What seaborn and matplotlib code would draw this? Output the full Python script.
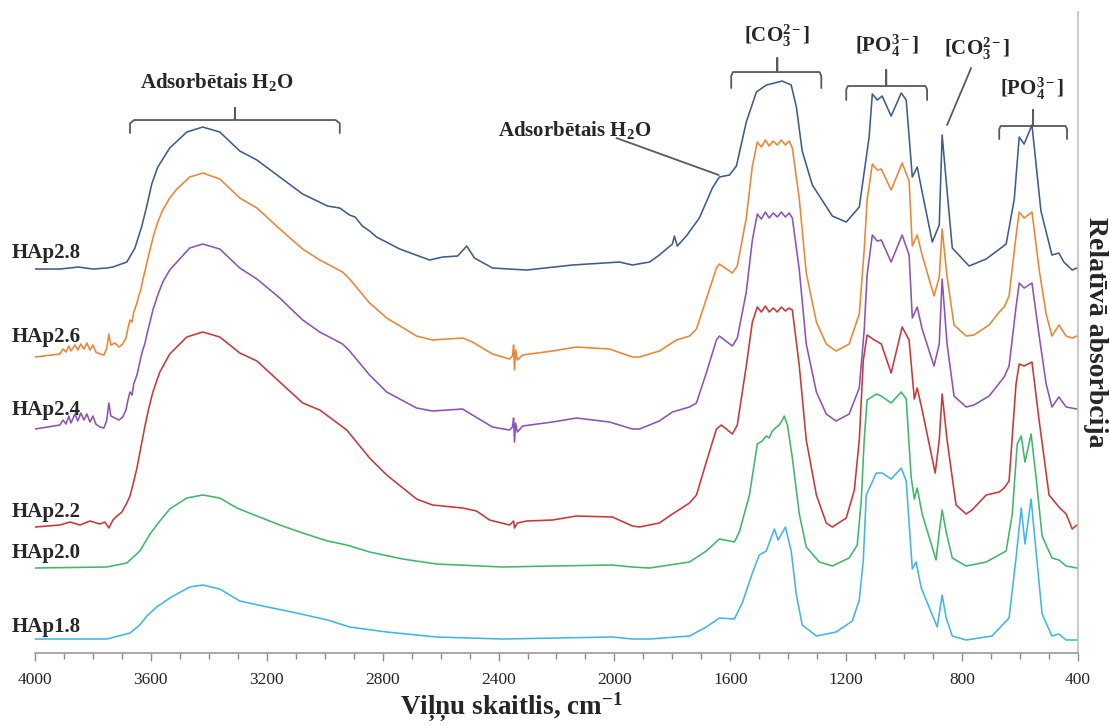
import matplotlib
matplotlib.use("Agg")
import matplotlib.pyplot as plt
import matplotlib.transforms as mtransforms
from matplotlib.ticker import MultipleLocator
import numpy as np
import pandas as pd
import seaborn as sns

# ---- FTIR spectra (stacked, relative absorbance) ----
wn_28 = [4000, 3914, 3850, 3800, 3752, 3731, 3683, 3655, 3632, 3614, 3597, 3576, 3535, 3476, 3421,
         3362, 3293, 3234, 3155, 3076, 2990, 2948, 2914, 2895, 2870, 2845, 2821, 2741, 2638, 2593,
         2541, 2510, 2483, 2421, 2303, 2145, 1983, 1938, 1879, 1845, 1800, 1793, 1783, 1752, 1707,
         1662, 1638, 1603, 1579, 1545, 1510, 1476, 1448, 1421, 1390, 1372, 1352, 1317, 1248, 1200,
         1155, 1121, 1110, 1093, 1076, 1045, 1010, 993, 972, 955, 938, 903, 879, 869, 855,
         834, 776, 717, 648, 620, 603, 586, 559, 528, 490, 466, 449, 420, 404]
ab_28 = [3.84, 3.84, 3.86, 3.84, 3.85, 3.86, 3.91, 4.05, 4.26, 4.47, 4.69, 4.86, 5.05, 5.21, 5.26,
         5.21, 5.02, 4.93, 4.76, 4.59, 4.47, 4.45, 4.38, 4.36, 4.27, 4.22, 4.16, 4.04, 3.93, 3.96,
         3.97, 4.07, 3.95, 3.85, 3.83, 3.88, 3.91, 3.88, 3.91, 3.98, 4.09, 4.17, 4.07, 4.17, 4.35,
         4.65, 4.76, 4.78, 4.87, 5.31, 5.61, 5.68, 5.70, 5.72, 5.68, 5.46, 5.02, 4.68, 4.37, 4.31,
         4.46, 5.16, 5.59, 5.53, 5.57, 5.37, 5.60, 5.53, 4.76, 4.86, 4.61, 4.11, 4.28, 5.18, 4.72,
         4.05, 3.87, 3.94, 4.09, 4.54, 5.16, 5.09, 5.28, 4.42, 3.98, 4.00, 3.91, 3.83, 3.85]

wn_26 = [4000, 3914, 3903, 3893, 3883, 3876, 3862, 3852, 3842, 3831, 3821, 3810, 3800, 3790, 3776, 3762,
         3752, 3745, 3738, 3724, 3710, 3697, 3686, 3679, 3672, 3665, 3659, 3648, 3641, 3635, 3628, 3621,
         3610, 3603, 3593, 3586, 3576, 3559, 3535, 3510, 3466, 3421, 3362, 3293, 3234, 3155, 3076, 3017,
         2938, 2914, 2845, 2786, 2683, 2628, 2524, 2490, 2421, 2362, 2352, 2348, 2345, 2341, 2335, 2317,
         2214, 2131, 2017, 1938, 1914, 1845, 1786, 1741, 1717, 1683, 1648, 1638, 1593, 1576,
         1545, 1524, 1507, 1493, 1479, 1466, 1452, 1438, 1424, 1410, 1397, 1386, 1362, 1338,
         1303, 1269, 1235, 1190, 1155, 1138, 1128, 1110, 1093, 1079, 1045, 1007, 983,
         972, 955, 938, 897, 879, 869, 852, 828, 786, 759, 707, 672, 655, 638, 614,
         603, 586, 559, 534, 510, 490, 466, 441, 420, 404]
ab_26 = [2.96, 2.99, 3.04, 3.01, 3.07, 3.02, 3.08, 3.03, 3.09, 3.04, 3.10, 3.03, 3.08, 3.01, 2.99, 2.98,
         3.05, 3.19, 3.08, 3.10, 3.06, 3.09, 3.15, 3.25, 3.33, 3.31, 3.41, 3.50, 3.58, 3.63, 3.73, 3.81,
         3.95, 4.03, 4.15, 4.22, 4.31, 4.43, 4.55, 4.64, 4.76, 4.80, 4.74, 4.55, 4.45, 4.24, 4.04, 3.93,
         3.81, 3.74, 3.50, 3.35, 3.17, 3.13, 3.15, 3.11, 2.99, 2.94, 2.97, 3.08, 2.83, 3.03, 2.93, 2.98,
         3.02, 3.06, 3.04, 2.96, 2.96, 3.02, 3.13, 3.17, 3.24, 3.54, 3.85, 3.89, 3.80, 3.87,
         4.35, 4.87, 5.11, 5.06, 5.13, 5.07, 5.12, 5.08, 5.13, 5.08, 5.12, 5.05, 4.54, 3.80,
         3.31, 3.09, 3.02, 3.09, 3.39, 4.03, 4.53, 4.89, 4.83, 4.84, 4.63, 4.90, 4.72,
         4.07, 4.18, 3.98, 3.57, 3.76, 4.24, 3.76, 3.28, 3.17, 3.18, 3.28, 3.41, 3.46, 3.57, 4.17,
         4.41, 4.35, 4.41, 3.83, 3.39, 3.17, 3.28, 3.17, 3.15, 3.17]

wn_24 = [4000, 3914, 3903, 3893, 3883, 3876, 3862, 3852, 3842, 3831, 3821, 3810, 3800, 3790, 3776, 3762,
         3752, 3745, 3738, 3724, 3710, 3697, 3686, 3679, 3672, 3665, 3659, 3648, 3641, 3635, 3628, 3621,
         3610, 3603, 3593, 3576, 3559, 3535, 3510, 3466, 3421, 3362, 3293, 3234, 3155, 3076, 3017, 2938,
         2914, 2845, 2786, 2683, 2628, 2524, 2490, 2421, 2362, 2352, 2348, 2345, 2341, 2335, 2317,
         2214, 2131, 2017, 1938, 1914, 1845, 1800, 1741, 1717, 1683, 1648, 1638, 1593, 1576,
         1545, 1524, 1507, 1493, 1479, 1466, 1452, 1438, 1424, 1410, 1397, 1386, 1362, 1338,
         1303, 1269, 1235, 1190, 1155, 1138, 1128, 1110, 1093, 1079, 1045, 1007, 983,
         972, 955, 938, 897, 879, 869, 852, 828, 786, 759, 707, 655, 638, 614,
         603, 586, 559, 534, 510, 490, 466, 441, 404]
ab_24 = [2.24, 2.28, 2.33, 2.29, 2.37, 2.30, 2.39, 2.32, 2.40, 2.33, 2.39, 2.31, 2.37, 2.29, 2.26, 2.25,
         2.33, 2.50, 2.37, 2.35, 2.33, 2.36, 2.43, 2.53, 2.61, 2.58, 2.69, 2.78, 2.87, 2.95, 3.03, 3.09,
         3.23, 3.31, 3.43, 3.58, 3.71, 3.83, 3.91, 4.05, 4.09, 4.04, 3.85, 3.74, 3.55, 3.33, 3.21, 3.09,
         3.02, 2.78, 2.61, 2.45, 2.42, 2.44, 2.38, 2.26, 2.23, 2.26, 2.35, 2.11, 2.30, 2.21, 2.27,
         2.31, 2.35, 2.31, 2.24, 2.24, 2.32, 2.41, 2.46, 2.50, 2.80, 3.13, 3.17, 3.07, 3.15,
         3.61, 4.13, 4.39, 4.34, 4.41, 4.35, 4.40, 4.36, 4.41, 4.36, 4.40, 4.35, 3.83, 3.09,
         2.61, 2.39, 2.32, 2.39, 2.65, 3.23, 3.78, 4.18, 4.12, 4.13, 3.91, 4.18, 3.98,
         3.35, 3.46, 3.24, 2.87, 3.09, 3.74, 3.09, 2.57, 2.46, 2.48, 2.57, 2.76, 2.87, 3.46,
         3.70, 3.65, 3.70, 3.17, 2.69, 2.46, 2.56, 2.46, 2.44]

wn_22 = [4000, 3914, 3879, 3845, 3810, 3776, 3759, 3745, 3731, 3717, 3700, 3683, 3672, 3662, 3648,
         3635, 3621, 3607, 3593, 3579, 3569, 3535, 3476, 3421, 3362, 3293, 3234, 3155, 3076, 3017,
         2924, 2845, 2786, 2683, 2628, 2524, 2476, 2431, 2362, 2348, 2345, 2335, 2303, 2214, 2131,
         2007, 1938, 1914, 1845, 1800, 1741, 1717, 1683, 1648, 1631, 1593, 1576, 1545, 1524, 1507,
         1493, 1479, 1466, 1452, 1438, 1424, 1410, 1397, 1386, 1362, 1338, 1303, 1269, 1248, 1200,
         1172, 1155, 1141, 1128, 1103, 1079, 1045, 1007, 983, 965, 955, 938, 893, 879, 869,
         852, 821, 786, 766, 717, 672, 655, 638, 614, 603, 586, 559, 534, 500, 466, 441, 420, 404]
ab_22 = [1.26, 1.28, 1.31, 1.28, 1.32, 1.29, 1.31, 1.25, 1.33, 1.37, 1.41, 1.50, 1.57, 1.68, 1.85,
         2.05, 2.26, 2.45, 2.61, 2.73, 2.81, 2.99, 3.16, 3.21, 3.16, 3.00, 2.92, 2.71, 2.50, 2.43,
         2.23, 1.95, 1.78, 1.54, 1.48, 1.45, 1.42, 1.33, 1.28, 1.32, 1.25, 1.30, 1.32, 1.33, 1.37,
         1.36, 1.27, 1.26, 1.30, 1.39, 1.50, 1.58, 1.91, 2.24, 2.28, 2.19, 2.28, 2.87, 3.31, 3.46,
         3.41, 3.47, 3.41, 3.45, 3.41, 3.46, 3.42, 3.45, 3.43, 2.87, 2.13, 1.58, 1.30, 1.26, 1.35,
         1.63, 2.13, 2.93, 3.18, 3.13, 3.09, 2.80, 3.26, 3.13, 2.54, 2.65, 2.43, 1.80, 2.13, 2.59,
         2.13, 1.48, 1.39, 1.43, 1.58, 1.61, 1.65, 1.72, 2.69, 2.89, 2.87, 2.91, 2.32, 1.58, 1.46,
         1.39, 1.24, 1.28]

wn_20 = [4000, 3752, 3683, 3638, 3603, 3569, 3535, 3476, 3421, 3362, 3303, 3234, 3155, 3076, 2990,
         2924, 2845, 2731, 2614, 2386, 2214, 2007, 1938, 1879, 1741, 1683, 1638, 1586, 1569, 1534,
         1507, 1490, 1476, 1466, 1455, 1445, 1431, 1421, 1414, 1403, 1386, 1362, 1338, 1293, 1248,
         1190, 1162, 1148, 1138, 1128, 1096, 1079, 1045, 1010, 993, 976, 965, 955, 938, 890,
         879, 869, 855, 834, 786, 717, 648, 627, 610, 596, 583, 562, 545, 524, 490, 466, 441, 404]
ab_20 = [0.85, 0.86, 0.90, 1.02, 1.19, 1.32, 1.44, 1.55, 1.58, 1.55, 1.45, 1.37, 1.28, 1.20, 1.12,
         1.08, 1.01, 0.94, 0.89, 0.86, 0.87, 0.88, 0.86, 0.85, 0.91, 1.02, 1.14, 1.11, 1.21, 1.58,
         2.09, 2.12, 2.17, 2.15, 2.22, 2.25, 2.28, 2.33, 2.37, 2.28, 1.95, 1.39, 1.06, 0.91, 0.87,
         0.95, 1.08, 1.53, 2.13, 2.53, 2.59, 2.57, 2.50, 2.61, 2.54, 1.76, 1.54, 1.65, 1.39, 0.93,
         1.21, 1.43, 1.21, 0.95, 0.87, 0.91, 1.02, 1.39, 2.09, 2.17, 1.91, 2.19, 1.76, 1.17, 0.95,
         0.93, 0.87, 0.85]

wn_18 = [4000, 3752, 3672, 3638, 3614, 3576, 3559, 3535, 3510, 3466, 3421, 3362, 3293, 3214, 3097,
         2990, 2914, 2786, 2614, 2386, 2007, 1938, 1879, 1741, 1683, 1638, 1586, 1559, 1524, 1500,
         1476, 1448, 1435, 1410, 1390, 1372, 1352, 1303, 1235, 1179, 1155, 1141, 1131, 1096, 1076,
         1045, 1010, 993, 972, 959, 941, 886, 869, 855, 834, 786, 697, 638, 614, 596,
         583, 562, 545, 524, 490, 466, 441, 404]
ab_18 = [0.14, 0.14, 0.20, 0.28, 0.37, 0.47, 0.50, 0.55, 0.59, 0.66, 0.68, 0.64, 0.52, 0.47, 0.40,
         0.33, 0.26, 0.21, 0.16, 0.14, 0.16, 0.14, 0.14, 0.17, 0.26, 0.35, 0.34, 0.50, 0.80, 0.98,
         1.02, 1.24, 1.13, 1.26, 1.02, 0.58, 0.28, 0.17, 0.21, 0.32, 0.53, 0.93, 1.58, 1.80, 1.80,
         1.74, 1.85, 1.72, 0.84, 0.91, 0.65, 0.26, 0.58, 0.35, 0.17, 0.13, 0.17, 0.35, 0.95, 1.45,
         1.09, 1.54, 1.02, 0.39, 0.17, 0.19, 0.13, 0.13]

samples = ["HAp2.8", "HAp2.6", "HAp2.4", "HAp2.2", "HAp2.0", "HAp1.8"]
spectra = {"HAp2.8": (wn_28, ab_28), "HAp2.6": (wn_26, ab_26), "HAp2.4": (wn_24, ab_24),
           "HAp2.2": (wn_22, ab_22), "HAp2.0": (wn_20, ab_20), "HAp1.8": (wn_18, ab_18)}
colors = ["#3F5B8F", "#EF8432", "#8D52B8", "#CF3535", "#3DB968", "#40B6EC"]
# vertical position of each sample name (relative absorbance units)
label_y = [4.00, 3.16, 2.43, 1.41, 1.00, 0.26]

frames = []
for s in samples:
    wn, ab = spectra[s]
    frames.append(pd.DataFrame({"wn": wn, "ab": ab, "sample": s}))
df = pd.concat(frames, ignore_index=True)

# ---- style ----
sns.set_style("white")
plt.rcParams["font.family"] = ["Liberation Serif", "DejaVu Serif"]
plt.rcParams["mathtext.fontset"] = "custom"
plt.rcParams["mathtext.rm"] = "Liberation Serif"
plt.rcParams["mathtext.it"] = "Liberation Serif:italic"
plt.rcParams["mathtext.bf"] = "Liberation Serif:bold"
plt.rcParams["mathtext.default"] = "bf"

fig = plt.figure(figsize=(11.1, 7.25), dpi=100)
ax = fig.add_axes([0.0315, 0.0993, 0.9397, 0.8841])

sns.lineplot(data=df, x="wn", y="ab", hue="sample", hue_order=samples,
             palette=dict(zip(samples, colors)), sort=False, estimator=None,
             legend=False, linewidth=1.15, ax=ax)
for ln in ax.get_lines():
    ln.set_solid_joinstyle("round")

ax.set_xlim(4000, 400)
ax.set_ylim(0, 6.41)
ax.set_yticks([])
ax.set_ylabel("")
ax.xaxis.set_major_locator(MultipleLocator(400))
ax.xaxis.set_minor_locator(MultipleLocator(100))
ax.tick_params(axis="x", which="major", direction="out", length=6, width=1,
               color="#8c8c8c", labelsize=12.5, pad=8, bottom=True)
ax.tick_params(axis="x", which="minor", direction="out", length=4, width=1,
               color="#8c8c8c", bottom=True)
for side in ("top", "left"):
    ax.spines[side].set_visible(False)
ax.spines["bottom"].set_color("#9a9a9a")
ax.spines["bottom"].set_linewidth(1.2)
ax.spines["right"].set_color("#c0c0c0")
ax.spines["right"].set_linewidth(1.2)

ax.set_xlabel(r"Viļņu skaitlis, cm$^{-1}$", fontsize=19.5, fontweight="bold")
ax.xaxis.set_label_coords(0.457, -0.058)
ax.text(1.017, 0.5, "Relatīvā absorbcija", transform=ax.transAxes, rotation=-90,
        ha="center", va="center", fontsize=20, fontweight="bold")

# sample names at the left edge
blend = mtransforms.blended_transform_factory(ax.transAxes, ax.transData)
for s, y in zip(samples, label_y):
    ax.text(-0.022, y, s, transform=blend, ha="left", va="center",
            fontsize=15, fontweight="bold", clip_on=False)

# band assignments
bracket_kw = dict(color="#5a5a5a", lw=1.3, clip_on=False, solid_joinstyle="round")


def bracket(x0, x1, xc, y, y_end, y_tip):
    d = 0.004 * (x0 - x1)
    r = 0.02 * (x0 - x1)
    dy = 0.25 * (y - y_end)
    ax.plot([x0, x0, x0 - r, xc + d, xc, xc, xc, xc - d, x1 + r, x1, x1],
            [y_end, y - dy, y, y, y + 0.02, y_tip, y + 0.02, y, y, y - dy, y_end],
            **bracket_kw)


txt_kw = dict(ha="center", va="center", fontsize=15, fontweight="bold")

ax.text(3372, 5.71, r"Adsorbētais H$_2$O", **txt_kw)
bracket(3672, 2948, 3310, 5.33, 5.20, 5.45)

ax.text(2138, 5.23, r"Adsorbētais H$_2$O", **txt_kw)
ax.plot([1993, 1640], [5.15, 4.78], **bracket_kw)

ax.text(1438, 6.17, r"[CO$_3^{2-}$]", **txt_kw)
bracket(1597, 1286, 1438, 5.81, 5.65, 5.95)

ax.text(1058, 6.07, r"[PO$_4^{3-}$]", **txt_kw)
bracket(1200, 921, 1062, 5.67, 5.53, 5.83)

ax.text(748, 6.04, r"[CO$_3^{2-}$]", **txt_kw)
ax.plot([769, 852], [5.85, 5.28], **bracket_kw)

ax.text(559, 5.64, r"[PO$_4^{3-}$]", **txt_kw)
bracket(672, 438, 555, 5.27, 5.14, 5.43)

fig.savefig("out.png", dpi=100)
